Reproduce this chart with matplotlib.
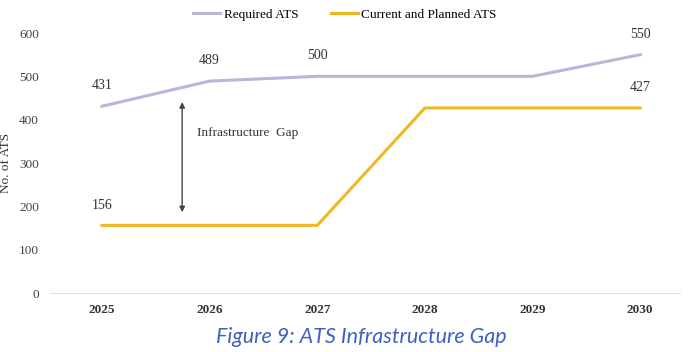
import matplotlib.pyplot as plt

years = ['2025', '2026', '2027', '2028', '2029', '2030']
required = [431, 489, 500, 500, 500, 550]
current = [156, 156, 156, 427, 427, 427]
req_labels = {0: '431', 1: '489', 2: '500', 5: '550'}
cur_labels = {0: '156', 5: '427'}

plt.rcParams['font.family'] = ['Liberation Serif', 'DejaVu Serif']

fig = plt.figure(figsize=(6.9, 3.52), dpi=100)
ax = fig.add_axes([50/690, 59/352, 630/690, 260/352])

x = list(range(len(years)))
ax.plot(x, required, color='#b8b6dc', lw=2.2, label='Required ATS')
ax.plot(x, current, color='#efb923', lw=2.2, label='Current and Planned ATS')

for i, t in req_labels.items():
    ax.annotate(t, (i, required[i]), xytext=(0, 10), textcoords='offset points',
                ha='center', va='bottom', fontsize=10, color='#333333')
for i, t in cur_labels.items():
    ax.annotate(t, (i, current[i]), xytext=(0, 10), textcoords='offset points',
                ha='center', va='bottom', fontsize=10, color='#333333')

# gap arrow
ax.annotate('', xy=(0.745, 180), xytext=(0.745, 447),
            arrowprops=dict(arrowstyle='<|-|>', color='#444444', lw=1, mutation_scale=8))
ax.text(0.88, 370, 'Infrastructure  Gap', fontsize=9.5, color='#333333', va='center')

ax.set_xlim(-0.483, 5.37)
ax.set_ylim(0, 600)
ax.set_xticks(x)
ax.set_xticklabels(years, fontsize=9.5, fontweight='bold', color='#333333')
ax.set_yticks(range(0, 601, 100))
ax.tick_params(axis='y', labelsize=9.5, labelcolor='#444444', length=0, pad=8)
ax.tick_params(axis='x', length=0, pad=8)
ax.set_ylabel('No. of ATS', fontsize=9.5, color='#333333', labelpad=5)
for s in ['top', 'right', 'left']:
    ax.spines[s].set_visible(False)
ax.spines['bottom'].set_color('#e0e0e0')

fig.legend(loc='upper center', bbox_to_anchor=(0.5, 1.01), ncol=2, frameon=False,
           fontsize=9.5, handlelength=2, columnspacing=2.5, handletextpad=0.3)

fig.text(0.523, 1 - 337/352, 'Figure 9: ATS Infrastructure Gap', ha='center', va='center',
         fontsize=15.5, style='italic', color='#3f60c0', family=['Lato', 'DejaVu Sans'])

fig.savefig('out.png', dpi=100)
